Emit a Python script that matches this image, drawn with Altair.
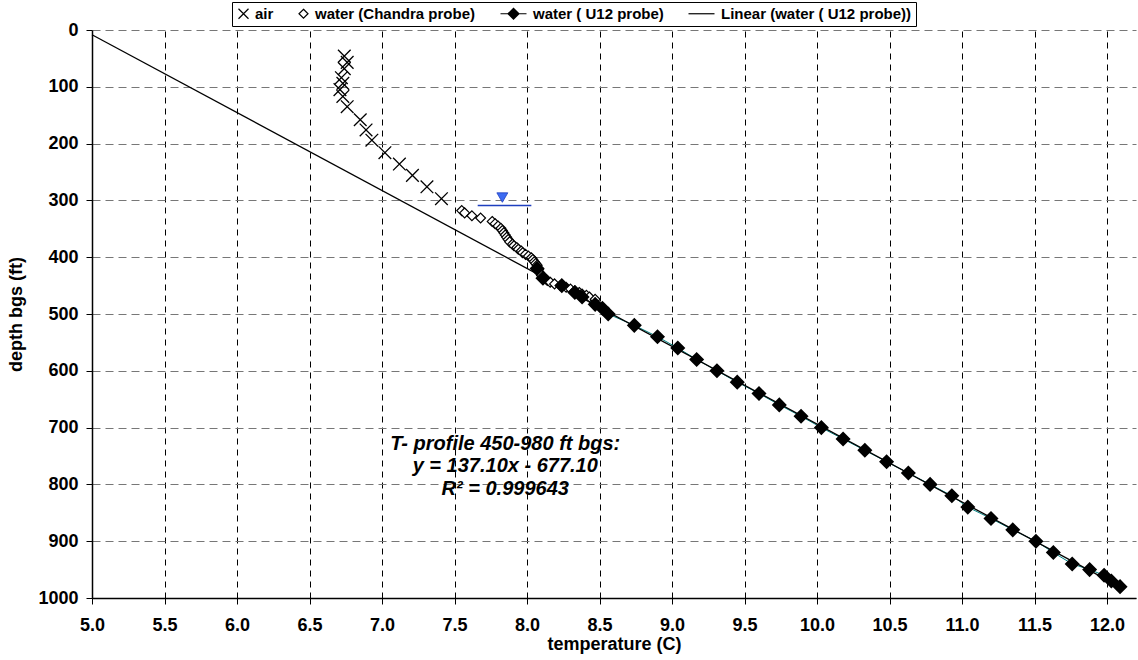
import altair as alt
import pandas as pd

# ---------------- data ----------------
series_names = ["air", "water (Chandra probe)", "water ( U12 probe)", "Linear (water ( U12 probe))"]

air_T = [6.74, 6.76, 6.74, 6.72, 6.73, 6.71, 6.73, 6.76, 6.85, 6.89, 6.93, 7.02, 7.12, 7.21, 7.31, 7.41]
air_D = [46, 57, 68, 84, 94, 105, 117, 135, 158, 176, 194, 216, 236, 256, 276, 297]

chandra_T = [7.55, 7.57, 7.62, 7.68, 7.76, 7.78, 7.80, 7.82, 7.83, 7.84, 7.85, 7.86, 7.87, 7.88,
             7.90, 7.91, 7.93, 7.94, 7.96, 7.97, 7.99, 8.01, 8.03, 8.04, 8.05, 8.06, 8.07,
             8.07, 8.08, 8.08, 8.09, 8.10, 8.11, 8.13, 8.14, 8.16, 8.19, 8.23, 8.27, 8.30,
             8.33, 8.36, 8.38, 8.41, 8.43, 8.47]
chandra_D = [318, 322, 327, 331, 337, 341, 345, 349, 353, 357, 361, 365, 369, 373,
             377, 380, 383, 386, 389, 392, 395, 398, 401, 404, 408, 411, 414,
             418, 421, 425, 428, 432, 435, 438, 441, 444, 447, 450, 453, 456,
             459, 462, 465, 467, 470, 474]

u12_T = [8.07, 8.11, 8.24, 8.33, 8.38, 8.47, 8.52, 8.56, 8.74, 8.90, 9.04, 9.17, 9.31, 9.45,
         9.60, 9.74, 9.89, 10.03, 10.18, 10.33, 10.48, 10.63, 10.78, 10.93, 11.04, 11.20,
         11.35, 11.51, 11.63, 11.76, 11.88, 11.98, 12.03, 12.09]
u12_D = [420, 437, 450, 462, 470, 483, 490, 500, 520, 540, 560, 580, 600, 620,
         640, 660, 680, 700, 720, 740, 760, 780, 800, 820, 840, 860,
         880, 900, 920, 940, 950, 960, 970, 980]

trend_T = [5.0, 12.1]
trend_D = [8.4, 981.8]

wt_T = [7.83]
wt_D = [295]
wt_line_T = [7.66, 8.03]
wt_line_D = [309, 309]

note_T = [7.85, 7.85, 7.85]
note_D = [728, 768, 808]
note_text = ["T- profile 450-980 ft bgs:", "y = 137.10x - 677.10", "R² = 0.999643"]

x_ticks = [5.0, 5.5, 6.0, 6.5, 7.0, 7.5, 8.0, 8.5, 9.0, 9.5, 10.0, 10.5, 11.0, 11.5, 12.0]
y_ticks = [0, 100, 200, 300, 400, 500, 600, 700, 800, 900, 1000]

# ---------------- frames ----------------
air_df = pd.DataFrame({"T": air_T, "D": air_D, "series": series_names[0]})
ch_df = pd.DataFrame({"T": chandra_T, "D": chandra_D, "series": series_names[1]})
u12_df = pd.DataFrame({"T": u12_T, "D": u12_D, "series": series_names[2]})
tr_df = pd.DataFrame({"T": trend_T, "D": trend_D, "series": series_names[3]})
wt_df = pd.DataFrame({"T": wt_T, "D": wt_D})
wtl_df = pd.DataFrame({"T": wt_line_T, "D": wt_line_D})
note_df = pd.DataFrame({"T": note_T, "D": note_D, "text": note_text})

FONT = "Liberation Sans"


def scan_diamond(cx, r):
    parts = [f"M{cx - r:.2f},0L{cx:.2f},{-r:.2f}L{cx + r:.2f},0L{cx:.2f},{r:.2f}Z"]
    y = -r + 0.08
    while y < r:
        hw = r - abs(y)
        parts.append(f"M{cx - hw:.2f},{y:.2f}L{cx + hw:.2f},{y:.2f}")
        y += 0.16
    return "".join(parts)


shape_range = [
    "M-1,-1L1,1M-1,1L1,-1",
    "M0,-0.9L0.9,0L0,0.9L-0.9,0Z",
    "M-4.2,0L1,0" + scan_diamond(-1.6, 1.1),
    "M-4.2,0L1,0",
]

xscale = alt.Scale(domain=[5.0, 12.2], nice=False, zero=False)
yscale = alt.Scale(domain=[0, 1000], reverse=True, nice=False)

xaxis = alt.Axis(values=x_ticks, format=".1f", title="temperature (C)", labelFlush=False,
                 labelFont=FONT, labelFontWeight="bold", labelFontSize=18, labelColor="black",
                 titleFont=FONT, titleFontWeight="bold", titleFontSize=18, titleColor="black",
                 titlePadding=1, labelPadding=12,
                 grid=True, gridColor="black", gridDash=[6, 5], gridWidth=1,
                 domainColor="black", domainWidth=1.5, tickColor="black", tickSize=6)
yaxis = alt.Axis(values=y_ticks, format="d", title="depth bgs (ft)",
                 labelFont=FONT, labelFontWeight="bold", labelFontSize=18, labelColor="black",
                 titleFont=FONT, titleFontWeight="bold", titleFontSize=18, titleColor="black",
                 titlePadding=12, labelPadding=8,
                 grid=True, gridColor="#777777", gridDash=[8, 5], gridWidth=1,
                 domainColor="black", domainWidth=1.5, tickColor="black", tickSize=6)

shape_enc = alt.Shape("series:N",
                      scale=alt.Scale(domain=series_names, range=shape_range),
                      legend=alt.Legend(title=None, orient="none", direction="horizontal",
                                        legendX=140, legendY=-28,
                                        symbolSize=100, symbolStrokeWidth=1.2,
                                        symbolStrokeColor="black", symbolFillColor="white",
                                        labelFont=FONT, labelFontWeight="bold", labelFontSize=15,
                                        labelColor="black", labelOffset=4, columnPadding=22,
                                        labelLimit=0,
                                        padding=4, strokeColor="black", fillColor="white"))

base_x = alt.X("T:Q", scale=xscale, axis=xaxis)
base_y = alt.Y("D:Q", scale=yscale, axis=yaxis)

u12_line = alt.Chart(u12_df).mark_line(color="#008080", strokeWidth=1).encode(
    x=alt.X("T:Q", scale=xscale), y=alt.Y("D:Q", scale=yscale))

trend = alt.Chart(tr_df).mark_line(color="black", strokeWidth=1.3).encode(
    x=alt.X("T:Q", scale=xscale), y=alt.Y("D:Q", scale=yscale))

air = alt.Chart(air_df).mark_point(filled=False, color="black", stroke="black",
                                   strokeWidth=1.3, size=160, opacity=1).encode(
    x=base_x, y=base_y, shape=shape_enc)

chandra = alt.Chart(ch_df).mark_point(filled=True, fill="white", stroke="black", color="black",
                                      strokeWidth=1.2, size=120, opacity=1).encode(
    x=alt.X("T:Q", scale=xscale), y=alt.Y("D:Q", scale=yscale), shape=shape_enc)

u12_pts = alt.Chart(u12_df).mark_point(filled=True, fill="black", stroke="black", shape="diamond",
                                       size=150, opacity=1).encode(
    x=alt.X("T:Q", scale=xscale), y=alt.Y("D:Q", scale=yscale))

wt_tri = alt.Chart(wt_df).mark_point(filled=True, fill="#3D6BF2", stroke="#1E3FBF", strokeWidth=0.8,
                                     shape="triangle-down", size=120, opacity=1).encode(
    x=alt.X("T:Q", scale=xscale), y=alt.Y("D:Q", scale=yscale))

wt_line = alt.Chart(wtl_df).mark_line(color="#1E3FBF", strokeWidth=1.6).encode(
    x=alt.X("T:Q", scale=xscale), y=alt.Y("D:Q", scale=yscale))

notes = alt.Chart(note_df).mark_text(font=FONT, fontWeight="bold", fontStyle="italic",
                                     fontSize=20, align="center", baseline="middle",
                                     color="black").encode(
    x=alt.X("T:Q", scale=xscale), y=alt.Y("D:Q", scale=yscale), text="text:N")

chart = alt.layer(air, u12_line, trend, chandra, u12_pts, wt_line, wt_tri, notes).properties(
    width=1044, height=568,
    autosize=alt.AutoSizeParams(type="none"),
    padding={"left": 92, "top": 30, "right": 2, "bottom": 62},
    background="white",
).configure_view(stroke=None)

chart.save("out.html", embed_options={"renderer": "svg", "actions": False})
